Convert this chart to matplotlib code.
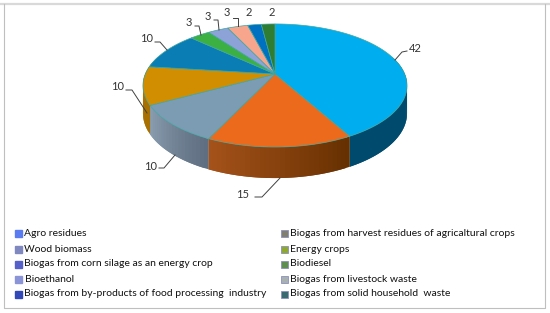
import numpy as np
import matplotlib
matplotlib.use('Agg')
import matplotlib.pyplot as plt
from matplotlib.colors import to_rgb

# pie data, clockwise from the top
values = [42, 15, 10, 10, 10, 3, 3, 3, 2, 2]
top_colors = ['#00AEEF', '#EC6A1C', '#7C9CB4', '#D08E00', '#0B7DB5',
              '#3CB043', '#8DA2D6', '#F7A58C', '#0070C0', '#2E7D32']
wall_start = ['#004A6E', '#663000', '#5F6E80', '#A87000', '#0B5A85',
              '#2A7A30', '#6A7AA0', '#B07A68', '#005090', '#1E5522']
wall_end = ['#004A6E', '#A5521A', '#8A9DB0', '#A87000', '#0B5A85',
            '#2A7A30', '#6A7AA0', '#B07A68', '#005090', '#1E5522']

legend_left = ['Agro residues', 'Wood biomass',
               'Biogas from corn silage as an energy crop', 'Bioethanol',
               'Biogas from by-products of food processing  industry']
legend_right = ['Biogas from harvest residues of agricaltural crops',
                'Energy crops', 'Biodiesel', 'Biogas from livestock waste',
                'Biogas from solid household  waste']
left_colors = ['#5B7CF0', '#8088C0', '#5560C8', '#8C94D8', '#3348B8']
right_colors = ['#807F70', '#8FA82E', '#5F8F50', '#A8B0B0', '#3A6A70']

# label position, then the leader line
labels = [
    ('42', 415, 48, [(395, 60), (402, 52), (407, 51)]),
    ('15', 243, 194, [(280, 178), (262, 197), (255, 197)]),
    ('10', 151, 167, [(175, 155), (164, 168), (159, 168)]),
    ('10', 118, 87, [(147, 113), (132, 90), (126, 90)]),
    ('10', 147, 38, [(167, 50), (160, 42), (155, 42)]),
    ('3', 189, 22, [(201, 35), (199, 26), (195, 26)]),
    ('3', 208, 16, [(219, 30), (218, 20), (214, 20)]),
    ('3', 227, 13, [(238, 26), (238, 18), (233, 18)]),
    ('2', 249, 13, []),
    ('2', 272, 13, []),
]

plt.rcParams['font.family'] = ['Lato', 'DejaVu Sans']


def project(angle):
    # tilted circle with perspective, apex sits above the ellipse middle
    u, v = np.sin(angle), np.cos(angle)
    w = 1 + 0.187 * v
    return 275 + 129.7 * u / w, 74 - 59.4 * v / w, v


fig = plt.figure(figsize=(5.5, 3.13), dpi=100)
ax = fig.add_axes([0, 0, 1, 1])
ax.set_xlim(0, 550)
ax.set_ylim(313, 0)
ax.axis('off')

# frame
ax.plot([0, 550], [3.5, 3.5], color='#D9D9D9', lw=1.6)
ax.plot([4, 4, 545, 545], [3.5, 308, 308, 3.5], color='#BFBFBF', lw=0.8)

edges = np.cumsum([0] + values) / sum(values) * 2 * np.pi

# side wall, strips overlap a bit so no seams show
for i in range(len(values)):
    steps = np.linspace(edges[i], edges[i + 1], max(values[i] * 2, 2) + 1)
    c0, c1 = np.array(to_rgb(wall_start[i])), np.array(to_rgb(wall_end[i]))
    for j in range(len(steps) - 1):
        x, y, v = project(np.linspace(steps[j], min(steps[j] + 2 * (steps[1] - steps[0]), edges[i + 1]), 4))
        if v.mean() > 0.3:
            continue
        d = 27 - 4 * v
        col = c0 + (c1 - c0) * j / max(len(steps) - 2, 1)
        ax.fill(np.r_[x, x[::-1]], np.r_[y, (y + d)[::-1]], color=col, lw=0)

# top of the pie
for i in range(len(values)):
    x, y, v = project(np.linspace(edges[i], edges[i + 1], 80))
    ax.fill(np.r_[275, x], np.r_[74, y], facecolor=top_colors[i],
            edgecolor='#3FA6A0', lw=0.5)

# data labels
for text, lx, ly, line in labels:
    ax.text(lx, ly, text, fontsize=8, color='#333333', ha='center', va='center')
    if line:
        ax.plot([p[0] for p in line], [p[1] for p in line], color='#404040', lw=0.7)

# legend
rows = [233, 249, 264, 279, 294]
for i in range(5):
    ax.fill([15, 22, 22, 15], [rows[i] - 3.5, rows[i] - 3.5, rows[i] + 3.5, rows[i] + 3.5],
            color=left_colors[i])
    ax.text(24.5, rows[i], legend_left[i], fontsize=7.5, color='#111111', va='center')
    ax.fill([281, 288, 288, 281], [rows[i] - 3.5, rows[i] - 3.5, rows[i] + 3.5, rows[i] + 3.5],
            facecolor=right_colors[i], edgecolor='#8A90C0', lw=0.6)
    ax.text(290, rows[i], legend_right[i], fontsize=7.5, color='#111111', va='center')

fig.savefig('out.png', dpi=100)
